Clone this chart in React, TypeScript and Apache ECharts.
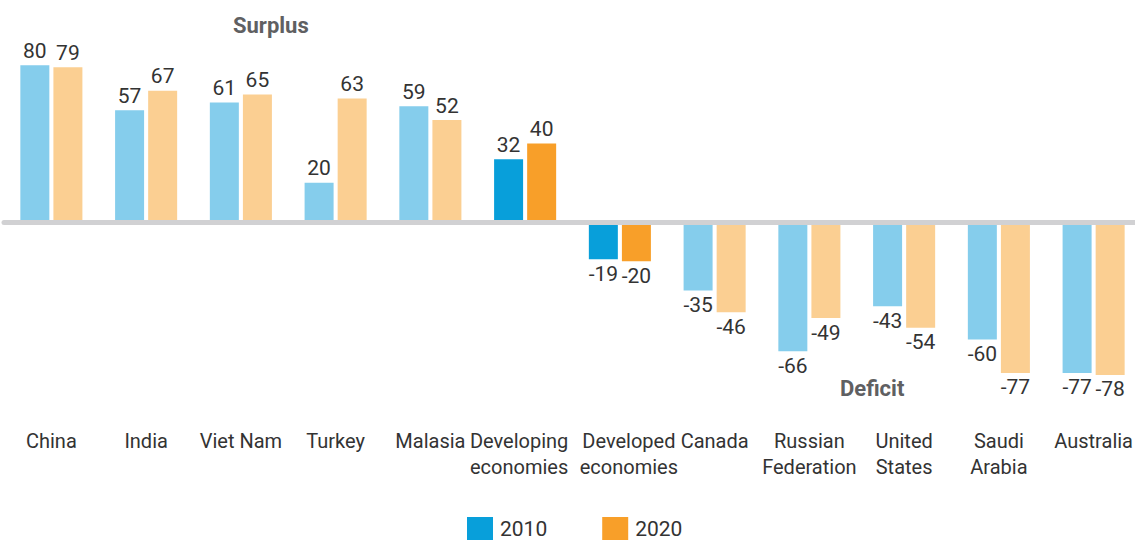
import React, { useEffect, useRef } from "react";
import * as echarts from "echarts";

const categories = [
  "China", "India", "Viet Nam", "Turkey", "Malasia",
  "Developing\neconomies", "Developed\neconomies", "Canada",
  "Russian\nFederation", "United\nStates", "Saudi\nArabia", "Australia",
];
const values2010 = [80, 57, 61, 20, 59, 32, -19, -35, -66, -43, -60, -77];
const values2020 = [79, 67, 65, 63, 52, 40, -20, -46, -49, -54, -77, -78];
const highlighted = ["Developing\neconomies", "Developed\neconomies"];
const seriesNames = ["2010", "2020"];

const FONT = "Roboto, 'Liberation Sans', sans-serif";
const DARK = ["#089fda", "#f89f29"];
const LIGHT = ["#85cdec", "#fbcf92"];

function buildData(values: number[], idx: number) {
  return values.map((v, i) => {
    const hi = highlighted.includes(categories[i]);
    return {
      value: v,
      itemStyle: { color: hi ? DARK[idx] : LIGHT[idx] },
      label: { position: v >= 0 ? "top" : "bottom" },
    };
  });
}

function formatCategory(value: string) {
  const lines = value.split("\n");
  let style = "n";
  if (value === highlighted[0]) style = "l";
  if (value === highlighted[1]) style = "r";
  return lines.map((s) => `{${style}|${s}}`).join("\n");
}

export default function App() {
  const ref = useRef<HTMLDivElement>(null);
  useEffect(() => {
    if (!ref.current) return;
    const chart = echarts.init(ref.current, undefined, { renderer: "svg" });
    const labelCommon = {
      show: true,
      fontFamily: FONT,
      fontSize: 21,
      color: "#333333",
      distance: 4,
    };
    const richBase = { fontFamily: FONT, fontSize: 20, lineHeight: 26, color: "#333333" };
    chart.setOption({
      animation: false,
      grid: { left: 4, width: 1137, top: 26, height: 392 },
      legend: {
        data: seriesNames,
        left: 462,
        top: 512,
        itemWidth: 26,
        itemHeight: 23,
        itemGap: 55,
        icon: "rect",
        textStyle: { fontFamily: FONT, fontSize: 21, lineHeight: 22, color: "#333333", padding: [0, 0, 0, 2] },
      },
      xAxis: [
        {
          type: "category",
          data: categories,
          axisLine: { show: false, onZero: false },
          axisTick: { show: false },
          axisLabel: {
            interval: 0,
            margin: 10,
            fontFamily: FONT,
            fontSize: 20,
            lineHeight: 26,
            color: "#333333",
            formatter: formatCategory,
            rich: {
              n: { ...richBase },
              l: { ...richBase, padding: [0, 12, 0, 0] },
              r: { ...richBase, padding: [0, 0, 0, 18] },
            },
          },
        },
        {
          type: "category",
          data: categories,
          position: "bottom",
          z: 5,
          axisLine: { show: true, onZero: true, lineStyle: { color: "#d1d1d3", width: 5 } },
          axisTick: { show: false },
          axisLabel: { show: false },
        },
      ],
      yAxis: {
        type: "value",
        min: -100,
        max: 100,
        show: false,
        splitLine: { show: false },
      },
      graphic: [
        {
          type: "text",
          left: 233,
          top: 14,
          style: { text: "Surplus", font: `bold 22px ${FONT}`, fill: "#5f6062" },
        },
        {
          type: "text",
          left: 840,
          top: 377,
          style: { text: "Deficit", font: `bold 22px ${FONT}`, fill: "#5f6062" },
        },
      ],
      series: seriesNames.map((name, idx) => ({
        name,
        type: "bar",
        xAxisIndex: 0,
        barWidth: 29,
        barGap: "14%",
        itemStyle: { color: DARK[idx] },
        label: labelCommon,
        data: buildData(idx === 0 ? values2010 : values2020, idx),
      })),
    });
    return () => chart.dispose();
  }, []);
  return (
    <div
      style={{
        position: "absolute",
        left: 0,
        top: 0,
        width: 1135,
        height: 540,
        overflow: "hidden",
      }}
    >
      <div ref={ref} style={{ width: 1145, height: 540 }} />
    </div>
  );
}
